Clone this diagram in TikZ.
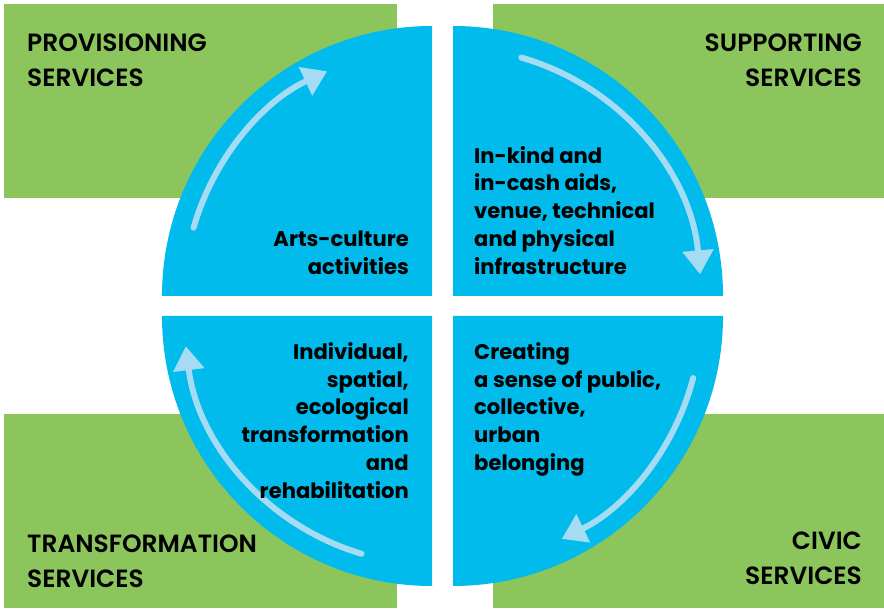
\documentclass[tikz,border=0pt]{standalone}
\usepackage{fontspec}
\setmainfont{Poppins}
\newfontfamily\svcfont{Poppins SemiBold}
\usetikzlibrary{calc,positioning,arrows.meta}
\definecolor{svcgreen}{RGB}{139,197,91}
\definecolor{quadblue}{RGB}{0,187,236}
\definecolor{flowblue}{RGB}{166,220,243}

\begin{document}
\begin{tikzpicture}[x=1bp, y=1bp,
        svcbox/.style={fill=svcgreen, inner sep=0, minimum width=393bp, minimum height=194bp},
        svclabel/.style={inner sep=0, font=\svcfont\fontsize{25}{35}\selectfont},
        quadtext/.style={inner sep=0, font=\bfseries\fontsize{21.2}{28}\selectfont},
        flow/.style={draw=flowblue, line width=6bp, line cap=round, -{Triangle[width=30bp,length=24bp]}}]
        \useasboundingbox (0,0) rectangle (884,609);

        \node [svcbox, anchor=north west] (provision) at (4,605) {};
        \node [svcbox, minimum width=391bp, anchor=north east] (support) at (884,605) {};
        \node [svcbox, anchor=south west] (transform) at (4,1) {};
        \node [svcbox, minimum width=391bp, anchor=south east] (civic) at (884,1) {};

        \node [svclabel, align=left, below right=30bp and 23bp of provision.north west] (provlabel) {PROVISIONING\\SERVICES};
        \node [svclabel, align=right, below left=30bp and 22bp of support.north east] (suplabel) {SUPPORTING\\SERVICES};
        \node [svclabel, align=left, above right=20bp and 23bp of transform.south west] (translabel) {TRANSFORMATION\\SERVICES};
        \node [svclabel, align=right, above left=23bp and 22bp of civic.south east] (civlabel) {CIVIC\\SERVICES};

        % quarter discs
        \coordinate (tlc) at (432,313);
        \coordinate (trc) at (453,313);
        \coordinate (blc) at (432,293);
        \coordinate (brc) at (453,293);
        \fill[quadblue] (tlc) -- ++(-270,0) arc[start angle=180, end angle=90, radius=270] -- cycle;
        \fill[quadblue] (trc) -- ++(0,270) arc[start angle=90, end angle=0, radius=270] -- cycle;
        \fill[quadblue] (brc) -- ++(270,0) arc[start angle=0, end angle=-90, radius=270] -- cycle;
        \fill[quadblue] (blc) -- ++(0,-270) arc[start angle=270, end angle=180, radius=270] -- cycle;

        \draw[flow] ($(tlc)+(164:248)$) arc[start angle=164, end angle=115, radius=248];
        \draw[flow] ($(trc)+(74:248)$) arc[start angle=74, end angle=5, radius=248];
        \draw[flow] ($(brc)+(-14.5:248)$) arc[start angle=-14.5, end angle=-64, radius=248];
        \draw[flow] ($(blc)+(253.5:248)$) arc[start angle=253.5, end angle=187, radius=248];

        \node [quadtext, align=right, above left=21bp and 23bp of tlc] (arts) {Arts-culture\\activities};
        \node [quadtext, align=left, above right=21bp and 21bp of trc] (aids) {In-kind and\\in-cash aids,\\venue, technical\\and physical\\infrastructure};
        \node [quadtext, align=left, below right=26bp and 21bp of brc] (belonging) {Creating\\a sense of public,\\collective,\\urban\\belonging};
        \node [quadtext, align=right, below left=26bp and 23bp of blc] (rehab) {Individual,\\spatial,\\ecological\\transformation\\and\\rehabilitation};
\end{tikzpicture}
\end{document}
